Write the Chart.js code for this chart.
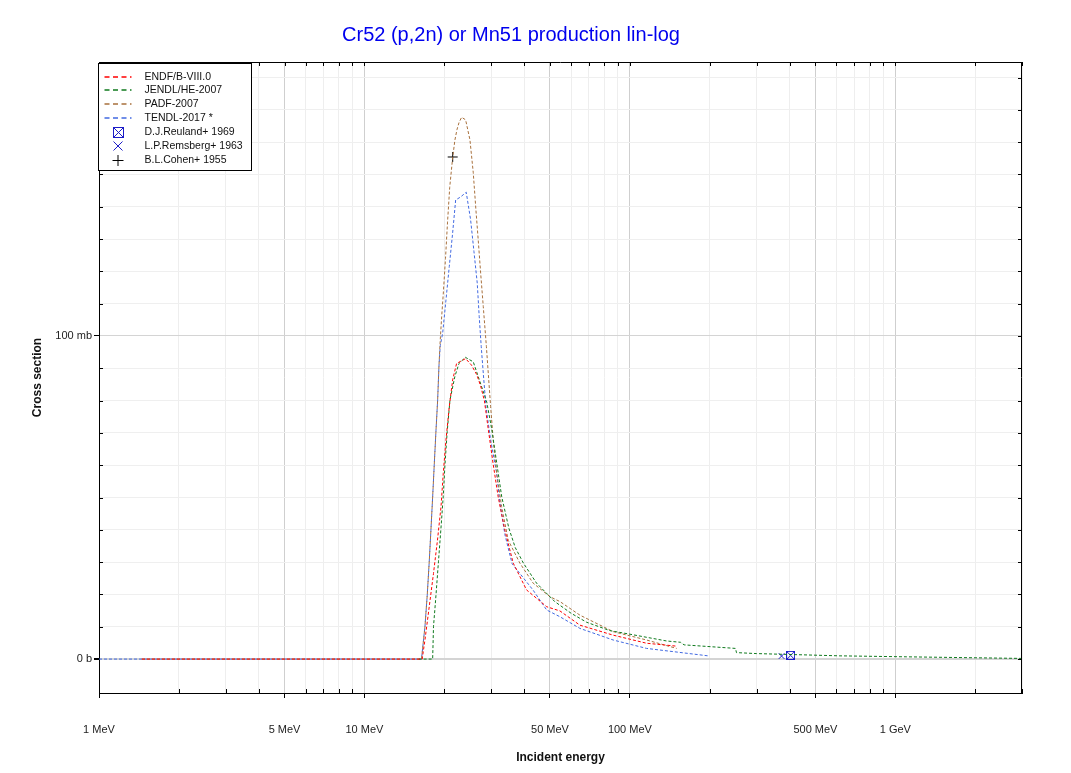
<!DOCTYPE html>
<html>
<head>
<meta charset="utf-8">
<title>Cr52 (p,2n) or Mn51 production lin-log</title>
<script src="https://cdn.jsdelivr.net/npm/chart.js@4.4.1/dist/chart.umd.min.js"></script>
<style>
  html, body { margin: 0; padding: 0; background: #fff; }
  #wrap { width: 1071px; height: 773px; }
</style>
</head>
<body>
<div id="wrap"><canvas id="xsChart" width="1071" height="773"></canvas></div>
<script>
// energies in MeV, cross sections in mb
const endfE = [1.45, 16.5, 16.9, 17.54, 18.2, 18.84, 19.43, 19.81, 20.28, 20.87, 21.49, 22.24, 23.2, 24.05, 25.3, 26.5, 27.4, 28.3, 29.3, 30.5, 31.9, 33.8, 36.35, 40.8, 48.6, 54.5, 64.8, 86.5, 115.6, 150];
const endfY = [0, 0, 5.9, 16.2, 26.5, 36.8, 47.2, 57.5, 67.8, 78.1, 86.4, 91.5, 92.3, 93.0, 91.0, 88.0, 84.5, 80.0, 70.9, 60.7, 50.2, 39.9, 29.7, 21.4, 16.2, 14.9, 10.5, 7.4, 4.9, 4.0];

const jendlE = [16.0, 18.07, 18.2, 18.6, 19.0, 19.4, 19.8, 20.1, 20.5, 21.0, 21.9, 22.7, 24.0, 25.7, 27.2, 28.9, 30.2, 31.5, 32.9, 35.0, 37.0, 39.7, 44.5, 52.1, 60.0, 68.7, 84.1, 100, 137.5, 155, 160, 250, 252, 300, 618, 1100, 3000];
const jendlY = [0, 0, 10.0, 19.8, 30.1, 40.0, 50.2, 60.0, 70.4, 80.2, 87.4, 91.5, 93.4, 92.0, 86.0, 79.5, 70.9, 60.7, 50.2, 40.5, 34.5, 29.7, 23.5, 17.8, 14.2, 11.4, 8.8, 7.7, 5.6, 5.2, 4.4, 3.3, 2.0, 1.7, 1.0, 0.7, 0.2];

const padfE = [1.45, 16.4, 16.9, 17.24, 17.54, 17.8, 18.07, 18.32, 18.59, 18.87, 19.08, 19.3, 19.54, 19.81, 20.2, 20.55, 20.95, 21.45, 21.9, 22.3, 22.7, 23.23, 24.05, 24.97, 25.7, 26.3, 26.83, 27.4, 28.03, 28.8, 29.27, 29.88, 30.56, 31.48, 32.87, 34.8, 38.5, 43.2, 50.0, 54.5, 64.8, 86.5, 115.6, 150];
const padfY = [0, 0, 10.0, 19.8, 30.1, 39.9, 50.2, 60.1, 70.4, 80.2, 90.5, 98.8, 106.0, 113.0, 124.0, 135.0, 146.0, 154.5, 160.5, 163.8, 166.0, 167.7, 166.9, 160.7, 150.5, 139.0, 129.7, 119.5, 109.1, 96.7, 88.5, 78.1, 67.8, 57.6, 47.2, 36.8, 29.7, 23.5, 19.3, 17.8, 13.6, 8.5, 5.9, 3.3];

const tendlE = [1.0, 16.4, 16.9, 17.24, 17.54, 17.8, 18.07, 18.32, 18.59, 18.87, 19.08, 19.3, 19.71, 20.28, 20.87, 21.49, 22.06, 23.0, 24.18, 25.12, 25.85, 26.6, 27.06, 27.54, 28.03, 28.7, 29.88, 31.48, 32.3, 33.82, 36.0, 43.13, 48.57, 54.5, 64.8, 86.5, 115.6, 197];
const tendlY = [0, 0, 10.0, 19.8, 30.1, 39.9, 50.2, 60.1, 70.4, 80.2, 90.5, 97.0, 100.9, 111.1, 121.5, 131.9, 142.1, 143.0, 144.5, 135.9, 126.2, 116.4, 106.0, 96.7, 88.5, 78.1, 67.8, 57.6, 49.0, 38.5, 29.5, 21.4, 15.2, 13.1, 9.5, 5.9, 3.3, 1.0];

// experimental points
const reulandE = [403];
const reulandY = [1.15];
const remsbergE = [372.7];
const remsbergY = [0.93];
const cohenE = [21.5];
const cohenY = [155.4];

const xTickValues = [1, 2, 3, 4, 5, 6, 7, 8, 9, 10, 20, 30, 40, 50, 60, 70, 80, 90,
  100, 200, 300, 400, 500, 600, 700, 800, 900, 1000, 2000, 3000];
const xTickLabels = { 1: '1 MeV', 5: '5 MeV', 10: '10 MeV', 50: '50 MeV', 100: '100 MeV', 500: '500 MeV', 1000: '1 GeV' };
const yTickValues = [0, 10, 20, 30, 40, 50, 60, 70, 80, 90, 100, 110, 120, 130, 140, 150, 160, 170, 180];
const yTickLabels = { 0: '0 b', 100: '100 mb' };

const FONT = "'Liberation Sans', Arial, sans-serif";
const MARK_BLUE = '#1c1cc8';

function pts(xs, ys) {
  return xs.map((x, i) => ({ x: x, y: ys[i] }));
}

// square with a cross inside, for D.J.Reuland
function boxedCross(size, color) {
  const c = document.createElement('canvas');
  c.width = size; c.height = size;
  const g = c.getContext('2d');
  g.strokeStyle = color;
  g.lineWidth = 1;
  g.strokeRect(0.5, 0.5, size - 1, size - 1);
  g.beginPath();
  g.moveTo(1, 1); g.lineTo(size - 1, size - 1);
  g.moveTo(size - 1, 1); g.lineTo(1, size - 1);
  g.stroke();
  return c;
}
const reulandIcon = boxedCross(9, MARK_BLUE);
const reulandLegendIcon = boxedCross(11, MARK_BLUE);

function curve(label, color, xs, ys) {
  return {
    label, data: pts(xs, ys), showLine: true,
    borderColor: color, backgroundColor: color,
    borderWidth: 1, borderDash: [3, 2], pointRadius: 0, tension: 0
  };
}

// === frame, inner ticks and legend box ===
const framePlugin = {
  id: 'framePlugin',
  afterDraw(chart) {
    const { ctx, chartArea: a, scales } = chart;
    ctx.save();
    ctx.strokeStyle = '#000';
    ctx.lineWidth = 1;
    ctx.beginPath();
    ctx.moveTo(a.left, a.top + 0.5); ctx.lineTo(a.right, a.top + 0.5);
    ctx.moveTo(a.right - 0.5, a.top); ctx.lineTo(a.right - 0.5, a.bottom);
    // x ticks: inside on top for all, inside on bottom for minor ones
    xTickValues.forEach(v => {
      const px = Math.round(scales.x.getPixelForValue(v)) + 0.5;
      ctx.moveTo(px, a.top); ctx.lineTo(px, a.top + 4);
      if (!xTickLabels[v]) { ctx.moveTo(px, a.bottom); ctx.lineTo(px, a.bottom - 4); }
    });
    yTickValues.forEach(v => {
      const py = Math.round(scales.y.getPixelForValue(v)) + 0.5;
      ctx.moveTo(a.right, py); ctx.lineTo(a.right - 4, py);
      if (!(v in yTickLabels)) { ctx.moveTo(a.left, py); ctx.lineTo(a.left + 4, py); }
    });
    ctx.stroke();

    // legend
    const bx = a.left - 0.5, by = a.top + 1.5, bw = 153, bh = 107;
    ctx.fillStyle = '#fff';
    ctx.fillRect(bx, by, bw, bh);
    ctx.strokeRect(bx, by, bw, bh);
    ctx.font = '10.5px ' + FONT;
    ctx.textBaseline = 'middle';
    chart.data.datasets.forEach((ds, i) => {
      const y = Math.round(by + 13 + i * 13.9);
      ctx.fillStyle = '#111';
      ctx.fillText(ds.label, bx + 46, y);
      ctx.strokeStyle = ds.borderColor;
      ctx.fillStyle = ds.borderColor;
      if (ds.showLine) {
        ctx.setLineDash([5, 3.5]);
        ctx.lineWidth = 1.6;
        ctx.beginPath();
        ctx.moveTo(bx + 6, y); ctx.lineTo(bx + 33, y);
        ctx.stroke();
        ctx.setLineDash([]);
        ctx.lineWidth = 1;
      } else {
        const cx = bx + 19.5;
        ctx.beginPath();
        if (ds.legendMark === 'box') {
          ctx.drawImage(reulandLegendIcon, Math.round(cx - 5.5), Math.round(y - 5.5));
        } else if (ds.legendMark === 'x') {
          ctx.moveTo(cx - 4.5, y - 4.5); ctx.lineTo(cx + 4.5, y + 4.5);
          ctx.moveTo(cx + 4.5, y - 4.5); ctx.lineTo(cx - 4.5, y + 4.5);
        } else {
          ctx.moveTo(cx - 5.5, y + 0.5); ctx.lineTo(cx + 5.5, y + 0.5);
          ctx.moveTo(cx, y - 5); ctx.lineTo(cx, y + 6);
        }
        ctx.stroke();
      }
    });
    ctx.restore();
  }
};

const ctx = document.getElementById('xsChart').getContext('2d');
new Chart(ctx, {
  type: 'scatter',
  data: {
    datasets: [
      curve('ENDF/B-VIII.0', '#ff0000', endfE, endfY),
      curve('JENDL/HE-2007', '#0f7a1e', jendlE, jendlY),
      curve('PADF-2007', '#a8703c', padfE, padfY),
      curve('TENDL-2017 *', '#4169e1', tendlE, tendlY),
      {
        label: 'D.J.Reuland+ 1969', data: pts(reulandE, reulandY), legendMark: 'box',
        pointStyle: reulandIcon, borderColor: MARK_BLUE, backgroundColor: MARK_BLUE
      },
      {
        label: 'L.P.Remsberg+ 1963', data: pts(remsbergE, remsbergY), legendMark: 'x',
        pointStyle: 'crossRot', pointRadius: 4, borderWidth: 1,
        borderColor: MARK_BLUE, backgroundColor: MARK_BLUE
      },
      {
        label: 'B.L.Cohen+ 1955', data: pts(cohenE, cohenY), legendMark: 'plus',
        pointStyle: 'cross', pointRadius: 5, borderWidth: 1,
        borderColor: '#000', backgroundColor: '#000'
      }
    ]
  },
  options: {
    responsive: false,
    animation: false,
    layout: { padding: { left: 0, right: 49, top: 0, bottom: 0 } },
    plugins: {
      legend: { display: false },
      tooltip: { enabled: false },
      title: {
        display: true,
        text: 'Cr52 (p,2n) or Mn51 production lin-log',
        color: '#0000ee',
        font: { family: FONT, size: 20, weight: 'normal', lineHeight: 1.2 },
        padding: { top: 23, bottom: 15 }
      }
    },
    scales: {
      x: {
        type: 'logarithmic',
        min: 1, max: 3000,
        afterFit: s => { s.height = 80; },
        afterBuildTicks: s => { s.ticks = xTickValues.map(v => ({ value: v })); },
        border: { color: '#000', width: 1 },
        grid: {
          color: c => (xTickLabels[c.tick && c.tick.value] ? '#cfcfcf' : '#eeeeee'),
          tickColor: c => (xTickLabels[c.tick && c.tick.value] ? '#000' : 'rgba(0,0,0,0)'),
          tickLength: 5
        },
        ticks: {
          autoSkip: false, maxRotation: 0, minRotation: 0, padding: 25,
          color: '#222', font: { family: FONT, size: 11 },
          callback: v => xTickLabels[v] || ''
        },
        title: {
          display: true, text: 'Incident energy', color: '#111',
          font: { family: FONT, size: 12, weight: 'bold' },
          padding: { top: 0, bottom: 8 }
        }
      },
      y: {
        type: 'linear',
        min: -10.5, max: 184.8,
        afterFit: s => { s.width = 99; },
        afterBuildTicks: s => { s.ticks = yTickValues.map(v => ({ value: v })); },
        border: { color: '#000', width: 1 },
        grid: {
          color: c => ((c.tick && c.tick.value in yTickLabels) ? '#d4d4d4' : '#efefef'),
          lineWidth: c => ((c.tick && c.tick.value === 0) ? 2 : 1),
          tickColor: c => ((c.tick && c.tick.value in yTickLabels) ? '#000' : 'rgba(0,0,0,0)'),
          tickLength: 5
        },
        ticks: {
          autoSkip: false, padding: 2,
          color: '#222', font: { family: FONT, size: 11 },
          callback: v => (v in yTickLabels ? yTickLabels[v] : '')
        },
        title: {
          display: true, text: 'Cross section', color: '#111',
          font: { family: FONT, size: 12, weight: 'bold' },
          padding: { top: 30, bottom: 0 }
        }
      }
    }
  },
  plugins: [framePlugin]
});
</script>
</body>
</html>
